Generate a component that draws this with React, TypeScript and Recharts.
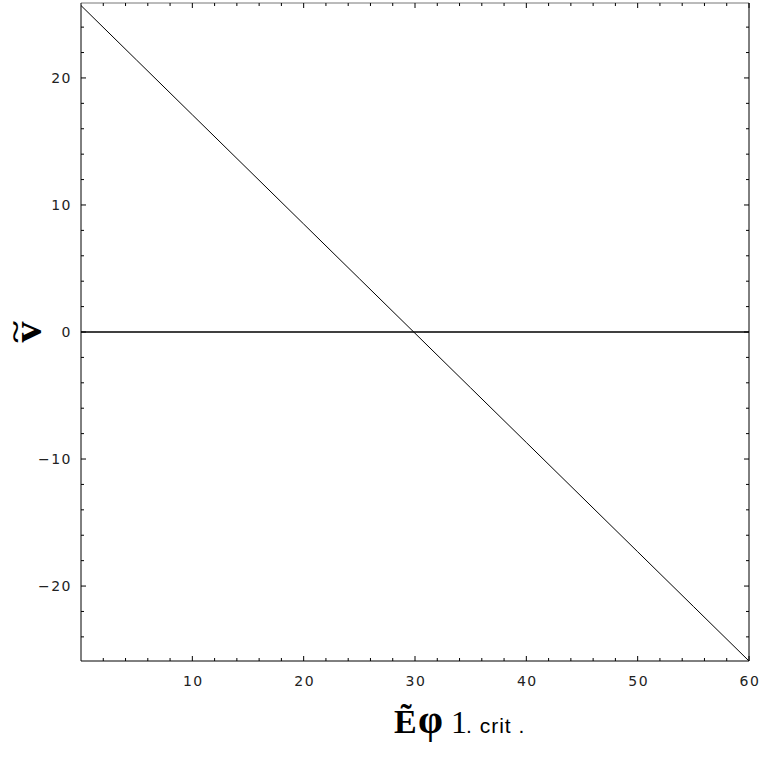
import { LineChart, Line, XAxis, YAxis, ReferenceLine } from 'recharts';

// E~phi (x) against v~ (y)
const xValues = [0, 5, 10, 15, 20, 25, 30, 35, 40, 45, 50, 55, 60];
const vValues = [25.7, 21.4, 17.1, 12.8, 8.5, 4.2, -0.1, -4.4, -8.7, -13.0, -17.3, -21.6, -25.9];

const xMajor = [10, 20, 30, 40, 50, 60];
const yMajor = [-20, -10, 0, 10, 20];
const xDomain: [number, number] = [0, 60];
const yDomain: [number, number] = [-25.9, 25.9];

const data = xValues.map((x, i) => ({ x, v: vValues[i] }));

const xTicks: number[] = [];
for (let t = 2; t <= 60; t += 2) xTicks.push(t);
const yTicks: number[] = [];
for (let t = -24; t <= 24; t += 2) yTicks.push(t);

const labelStyle = { fontFamily: 'DejaVu Sans', fontSize: 14, letterSpacing: 1.5, fill: '#222' };
const fmt = (n: number) => (n < 0 ? '\u2212' + Math.abs(n) : String(n));

function BottomTick(props: any) {
  const { x, y, payload } = props;
  const major = xMajor.includes(payload.value);
  return (
    <g>
      <line x1={x} y1={y} x2={x} y2={y - (major ? 5 : 3)} stroke="#000" />
      {major && (
        <text x={x + 1} y={y + 25} textAnchor="middle" style={labelStyle}>
          {fmt(payload.value)}
        </text>
      )}
    </g>
  );
}

function TopTick(props: any) {
  const { x, y, payload } = props;
  const major = xMajor.includes(payload.value);
  return <line x1={x} y1={y} x2={x} y2={y + (major ? 5 : 3)} stroke="#000" />;
}

function LeftTick(props: any) {
  const { x, y, payload } = props;
  const major = yMajor.includes(payload.value);
  return (
    <g>
      <line x1={x} y1={y} x2={x + (major ? 5 : 3)} y2={y} stroke="#000" />
      {major && (
        <text x={x - 9} y={y} dy="0.36em" textAnchor="end" style={labelStyle}>
          {fmt(payload.value)}
        </text>
      )}
    </g>
  );
}

function RightTick(props: any) {
  const { x, y, payload } = props;
  const major = yMajor.includes(payload.value);
  return <line x1={x} y1={y} x2={x - (major ? 5 : 3)} y2={y} stroke="#000" />;
}

const XTitle = () => (
  <text y={733} style={{ fill: '#000' }}>
    <tspan x={394} fontFamily="Liberation Serif" fontWeight="bold" fontSize={34}>{'\u1EBC'}</tspan>
    <tspan x={418} fontFamily="Liberation Serif" fontWeight="bold" fontSize={40}>{'\u03C6'}</tspan>
    <tspan x={451} fontFamily="Liberation Serif" fontSize={32}>1</tspan>
    <tspan x={466} fontFamily="Liberation Sans" fontSize={21} letterSpacing={1}>. crit .</tspan>
  </text>
);

const YTitle = () => (
  <g>
    <text
      x={41}
      y={332}
      transform="rotate(-90 41 332)"
      textAnchor="middle"
      fontFamily="Liberation Serif"
      fontWeight="bold"
      fontSize={42}
      fill="#000"
    >
      v
    </text>
    <text
      transform="translate(24 332) rotate(-90) scale(1.9 1.1)"
      textAnchor="middle"
      fontFamily="Liberation Serif"
      fontWeight="bold"
      fontSize={22}
      fill="#000"
    >
      ~
    </text>
  </g>
);

export default function App() {
  return (
    <div style={{ position: 'absolute', left: 0, top: 0, background: '#fff' }}>
      <LineChart width={762} height={762} data={data} margin={{ top: 0, right: 0, bottom: 0, left: 0 }}>
        <XAxis
          dataKey="x"
          type="number"
          domain={xDomain}
          ticks={xTicks}
          height={101}
          tickLine={false}
          tickSize={0}
          tickMargin={0}
          tick={<BottomTick />}
          axisLine={{ stroke: '#000' }}
          interval={0}
          label={{ content: () => <XTitle /> }}
        />
        <XAxis
          xAxisId="top"
          dataKey="x"
          type="number"
          orientation="top"
          domain={xDomain}
          ticks={xTicks}
          height={3}
          tickLine={false}
          tickSize={0}
          tickMargin={0}
          tick={<TopTick />}
          axisLine={{ stroke: '#777' }}
          interval={0}
        />
        <YAxis
          type="number"
          domain={yDomain}
          ticks={yTicks}
          width={81}
          tickLine={false}
          tickSize={0}
          tickMargin={0}
          tick={<LeftTick />}
          axisLine={{ stroke: '#000' }}
          interval={0}
          label={{ content: () => <YTitle /> }}
        />
        <YAxis
          yAxisId="right"
          type="number"
          orientation="right"
          domain={yDomain}
          ticks={yTicks}
          width={13}
          tickLine={false}
          tickSize={0}
          tickMargin={0}
          tick={<RightTick />}
          axisLine={{ stroke: '#000' }}
          interval={0}
        />
        <ReferenceLine y={0} stroke="#000" strokeWidth={1.5} />
        <Line type="linear" dataKey="v" stroke="#000" strokeWidth={1} dot={false} isAnimationActive={false} />
        <Line
          xAxisId="top"
          yAxisId="right"
          type="linear"
          dataKey="v"
          stroke="none"
          dot={false}
          legendType="none"
          isAnimationActive={false}
        />
      </LineChart>
    </div>
  );
}
